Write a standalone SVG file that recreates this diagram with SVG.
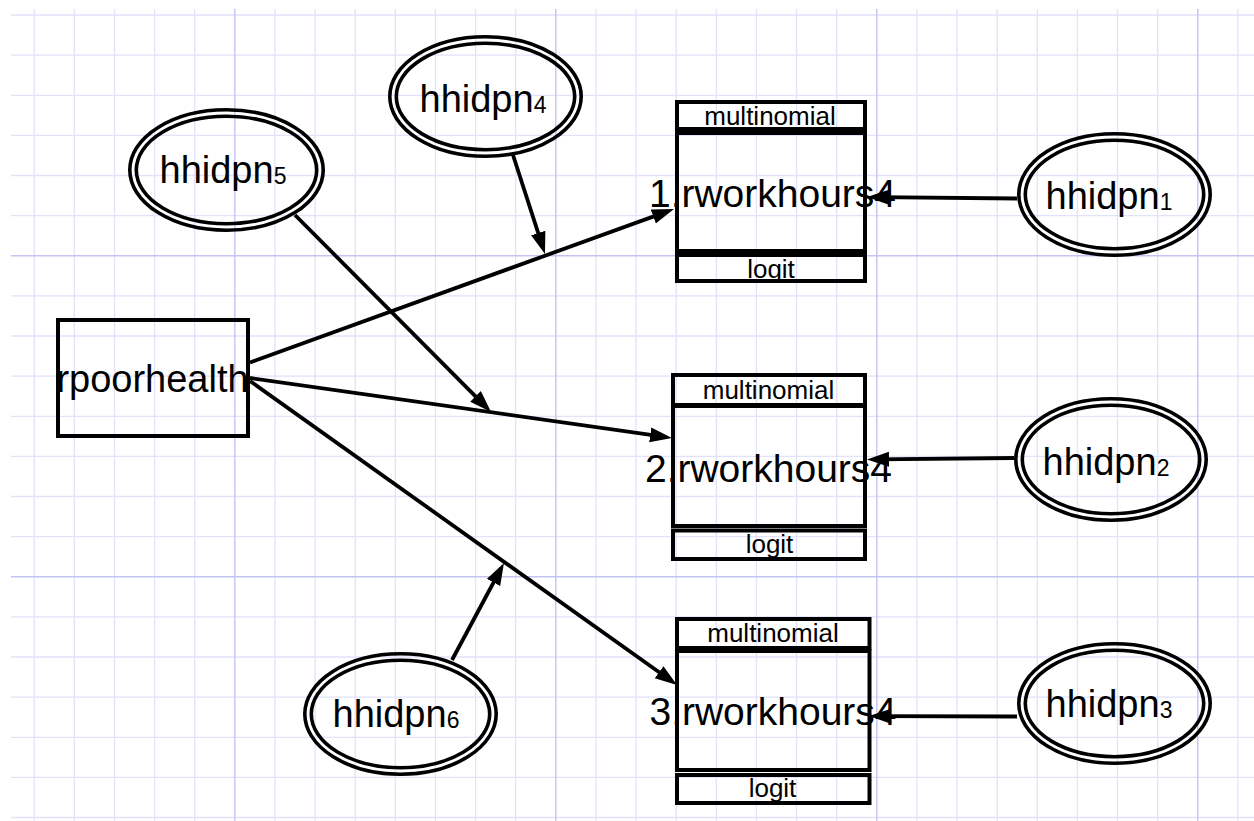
<svg xmlns="http://www.w3.org/2000/svg" width="1254" height="821" viewBox="0 0 1254 821">
<style>
.bg{fill:#ffffff}
.gmin{stroke:#e2e2fb;stroke-width:1.3;fill:none}
.gmaj{stroke:#c4c4f2;stroke-width:1.4;fill:none}
.box{fill:none;stroke:#000;stroke-width:4}
.ell{fill:none;stroke:#000;stroke-width:3.6}
.con{fill:none;stroke:#000;stroke-width:3.8}
.t{font-family:"Liberation Sans",Arial,sans-serif;fill:#000}
.big{font-size:38px}
.mid{font-size:39px;text-anchor:middle}
.sm{font-size:26px;text-anchor:middle}
.sub{font-size:23px}
</style>
<defs>
<marker id="ah" markerUnits="userSpaceOnUse" markerWidth="24" markerHeight="18" refX="13" refY="7.5" orient="auto">
<path d="M0,0 L22,7.5 L0,15 z" fill="#000"/>
</marker>
</defs>
<rect class="bg" x="0" y="0" width="1254" height="821"/>
<g id="grid">
<path class="gmin" d="M34.2,9V821M74.3,9V821M114.5,9V821M154.6,9V821M194.7,9V821M274.9,9V821M315.1,9V821M355.2,9V821M395.3,9V821M435.4,9V821M475.6,9V821M515.7,9V821M595.9,9V821M636,9V821M676.2,9V821M716.3,9V821M756.4,9V821M796.5,9V821M836.7,9V821M916.9,9V821M957,9V821M997.2,9V821M1037.3,9V821M1077.4,9V821M1117.5,9V821M1157.7,9V821M1237.9,9V821"/>
<path class="gmin" d="M11,15H1254M11,55.1H1254M11,95.3H1254M11,135.4H1254M11,175.5H1254M11,215.6H1254M11,295.9H1254M11,336H1254M11,376.1H1254M11,416.3H1254M11,456.4H1254M11,496.5H1254M11,536.6H1254M11,616.9H1254M11,657H1254M11,697.1H1254M11,737.3H1254M11,777.4H1254M11,817.5H1254"/>
<path class="gmaj" d="M234.8,9V821M555.8,9V821M876.8,9V821M1197.8,9V821M11,255.8H1254M11,576.8H1254"/>
</g>
<g id="connectors">
<line class="con" x1="250" y1="362.5" x2="665.5" y2="212.1" marker-end="url(#ah)"/>
<line class="con" x1="250" y1="378" x2="663.1" y2="436.7" marker-end="url(#ah)"/>
<line class="con" x1="250" y1="381" x2="669.7" y2="679.8" marker-end="url(#ah)"/>
<line class="con" x1="1017" y1="198.5" x2="876" y2="197.1" marker-end="url(#ah)"/>
<line class="con" x1="1014" y1="458" x2="876" y2="459.4" marker-end="url(#ah)"/>
<line class="con" x1="1017" y1="716.5" x2="878" y2="716.1" marker-end="url(#ah)"/>
<line class="con" x1="513" y1="155" x2="542.2" y2="245.4" marker-end="url(#ah)"/>
<line class="con" x1="295" y1="215" x2="484.7" y2="405.6" marker-end="url(#ah)"/>
<line class="con" x1="452" y1="660" x2="499.7" y2="571" marker-end="url(#ah)"/>
</g>
<g id="rpoorhealth">
<rect class="box" x="58" y="320" width="190" height="116"/>
<text class="t big" x="152.5" y="392" text-anchor="middle">rpoorhealth</text>
</g>
<g id="rworkhours4_1">
<rect class="box" x="677" y="102" width="188" height="27"/>
<rect class="box" x="677" y="133" width="188" height="118"/>
<rect class="box" x="677" y="255" width="188" height="26"/>
<text class="t sm" x="770" y="125">multinomial</text>
<text class="t mid" x="772.5" y="207">1.rworkhours4</text>
<text class="t sm" x="771" y="278">logit</text>
</g>
<g id="rworkhours4_2">
<rect class="box" x="673" y="375" width="192" height="30"/>
<rect class="box" x="673" y="406" width="192" height="120"/>
<rect class="box" x="673" y="530.5" width="192" height="28.5"/>
<text class="t sm" x="768.5" y="399">multinomial</text>
<text class="t mid" x="768.5" y="482">2.rworkhours4</text>
<text class="t sm" x="769.5" y="553">logit</text>
</g>
<g id="rworkhours4_3">
<rect class="box" x="677" y="619" width="192.5" height="29"/>
<rect class="box" x="677" y="651" width="192.5" height="119"/>
<rect class="box" x="677" y="775" width="192.5" height="28"/>
<text class="t sm" x="773" y="642">multinomial</text>
<text class="t mid" x="773" y="725">3.rworkhours4</text>
<text class="t sm" x="772.5" y="797">logit</text>
</g>
<g id="hhidpn1">
<ellipse class="ell" cx="1114.5" cy="194.5" rx="95.7" ry="60.7"/>
<ellipse class="ell" cx="1114.5" cy="194.5" rx="89.2" ry="54.2"/>
<text class="t big" x="1045.5" y="209">hhidpn<tspan class="sub" dy="1">1</tspan></text>
</g>
<g id="hhidpn2">
<ellipse class="ell" cx="1111" cy="459.5" rx="95.2" ry="60.7"/>
<ellipse class="ell" cx="1111" cy="459.5" rx="88.7" ry="54.2"/>
<text class="t big" x="1042.5" y="475">hhidpn<tspan class="sub" dy="1">2</tspan></text>
</g>
<g id="hhidpn3">
<ellipse class="ell" cx="1114.5" cy="703.5" rx="95.7" ry="59.7"/>
<ellipse class="ell" cx="1114.5" cy="703.5" rx="89.2" ry="53.2"/>
<text class="t big" x="1045.5" y="717">hhidpn<tspan class="sub" dy="1">3</tspan></text>
</g>
<g id="hhidpn4">
<ellipse class="ell" cx="485.5" cy="96.5" rx="95.7" ry="59.7"/>
<ellipse class="ell" cx="485.5" cy="96.5" rx="89.2" ry="53.2"/>
<text class="t big" x="419.5" y="112">hhidpn<tspan class="sub" dy="1">4</tspan></text>
</g>
<g id="hhidpn5">
<ellipse class="ell" cx="226.5" cy="170" rx="96.7" ry="60.2"/>
<ellipse class="ell" cx="226.5" cy="170" rx="90.2" ry="53.7"/>
<text class="t big" x="159.5" y="183">hhidpn<tspan class="sub" dy="1">5</tspan></text>
</g>
<g id="hhidpn6">
<ellipse class="ell" cx="400.5" cy="714" rx="95.7" ry="60.2"/>
<ellipse class="ell" cx="400.5" cy="714" rx="89.2" ry="53.7"/>
<text class="t big" x="332.5" y="727">hhidpn<tspan class="sub" dy="1">6</tspan></text>
</g>
</svg>
